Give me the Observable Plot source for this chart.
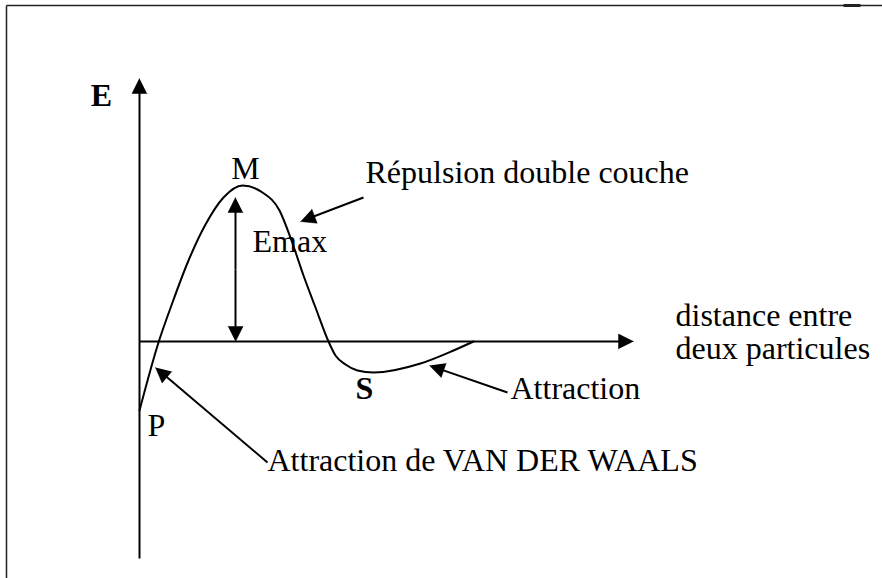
<!DOCTYPE html>
<html><head><meta charset="utf-8">
<script src="https://cdn.jsdelivr.net/npm/d3@7"></script>
<script src="https://cdn.jsdelivr.net/npm/@observablehq/plot@0.6"></script>
<style>body{margin:0;background:#fff}svg{display:block}svg text{font-family:"Liberation Serif","Times New Roman",serif !important}</style>
</head><body><div id="chart"></div>
<script>
// Energy curve E(distance), origin at the axes' crossing
const curveDist   = [0, 19, 33, 49, 66, 84, 103, 123, 140, 152, 164, 176, 189, 196, 206, 218, 234, 281, 314, 334];
const curveEnergy = [-69, -1, 39, 81, 117, 144, 156, 149, 131, 101, 66, 34, 0, -14, -23, -29, -31, -22, -9, 0];

// Arrows (start -> tip)
const arrowNames = ["axe E", "axe distance", "Emax haut", "Emax bas", "répulsion", "attraction", "van der waals"];
const arrowX1 = [0, 0, 96, 96, 224, 368, 128];
const arrowY1 = [-217, 0, 72, 72, 144, -51, -121];
const arrowX2 = [0, 494, 96, 96, 161, 290, 16];
const arrowY2 = [263, 0, 144, 0, 120, -24, -26];

// Labels
const labelText = ["E", "M", "S", "Répulsion double couche", "Emax", "distance entre", "deux particules", "Attraction", "P", "Attraction de VAN DER WAALS"];
const labelX = [-38, 106, 225, 226, 113, 536, 536, 371, 8, 128];
const labelY = [246, 173, -47, 169, 100, 26, -7, -47, -84, -119];
const labelKind = ["bold", "center", "bold", "start", "start", "start", "start", "start", "start", "start"];

// Page frame
const frameX1 = [-133, -133, 704];
const frameY1 = [336, 336, 336];
const frameX2 = [743, -133, 721];
const frameY2 = [336, -237, 336];

const curve = curveDist.map((d, i) => ({d, e: curveEnergy[i]}));
const HL = 15, HW = 15;
const shafts = [], heads = [];
arrowNames.forEach((name, i) => {
  const dx = arrowX2[i] - arrowX1[i], dy = arrowY2[i] - arrowY1[i], len = Math.hypot(dx, dy);
  const ux = dx / len, uy = dy / len;
  const bx = arrowX2[i] - ux * HL, by = arrowY2[i] - uy * HL;
  shafts.push({name, x1: arrowX1[i], y1: arrowY1[i], x2: bx + ux, y2: by + uy});
  heads.push({name, x: arrowX2[i], y: arrowY2[i]});
  heads.push({name, x: bx - uy * HW / 2, y: by + ux * HW / 2});
  heads.push({name, x: bx + uy * HW / 2, y: by - ux * HW / 2});
});
const frame = frameX1.map((x, i) => ({x1: x, y1: frameY1[i], x2: frameX2[i], y2: frameY2[i]}));
const labels = labelText.map((t, i) => ({t, x: labelX[i], y: labelY[i], k: labelKind[i]}));

const font = {fontFamily: "Liberation Serif", fontSize: 32, fill: "black", lineAnchor: "middle"};

const chart = Plot.plot({
  width: 882, height: 578, margin: 0,
  style: {fontFamily: "Liberation Serif"},
  x: {domain: [-139, 743], axis: null},
  y: {domain: [-237, 341], axis: null},
  marks: [
    Plot.link(frame.slice(0, 2), {x1: "x1", y1: "y1", x2: "x2", y2: "y2", stroke: "#222", strokeWidth: 1.5}),
    Plot.link(frame.slice(2), {x1: "x1", y1: "y1", x2: "x2", y2: "y2", stroke: "#222", strokeWidth: 3}),
    Plot.line(curve, {x: "d", y: "e", curve: "monotone-x", stroke: "black", strokeWidth: 2}),
    Plot.link(shafts, {x1: "x1", y1: "y1", x2: "x2", y2: "y2", stroke: "black", strokeWidth: 2}),
    Plot.line(heads, {x: "x", y: "y", z: "name", fill: "black", stroke: "black", strokeWidth: 0.5}),
    Plot.text(labels.filter(d => d.k === "bold"), {x: "x", y: "y", text: "t", textAnchor: "middle", fontWeight: "bold", ...font}),
    Plot.text(labels.filter(d => d.k === "center"), {x: "x", y: "y", text: "t", textAnchor: "middle", ...font}),
    Plot.text(labels.filter(d => d.k === "start"), {x: "x", y: "y", text: "t", textAnchor: "start", ...font})
  ]
});
document.getElementById("chart").append(chart);
</script>
</body></html>
